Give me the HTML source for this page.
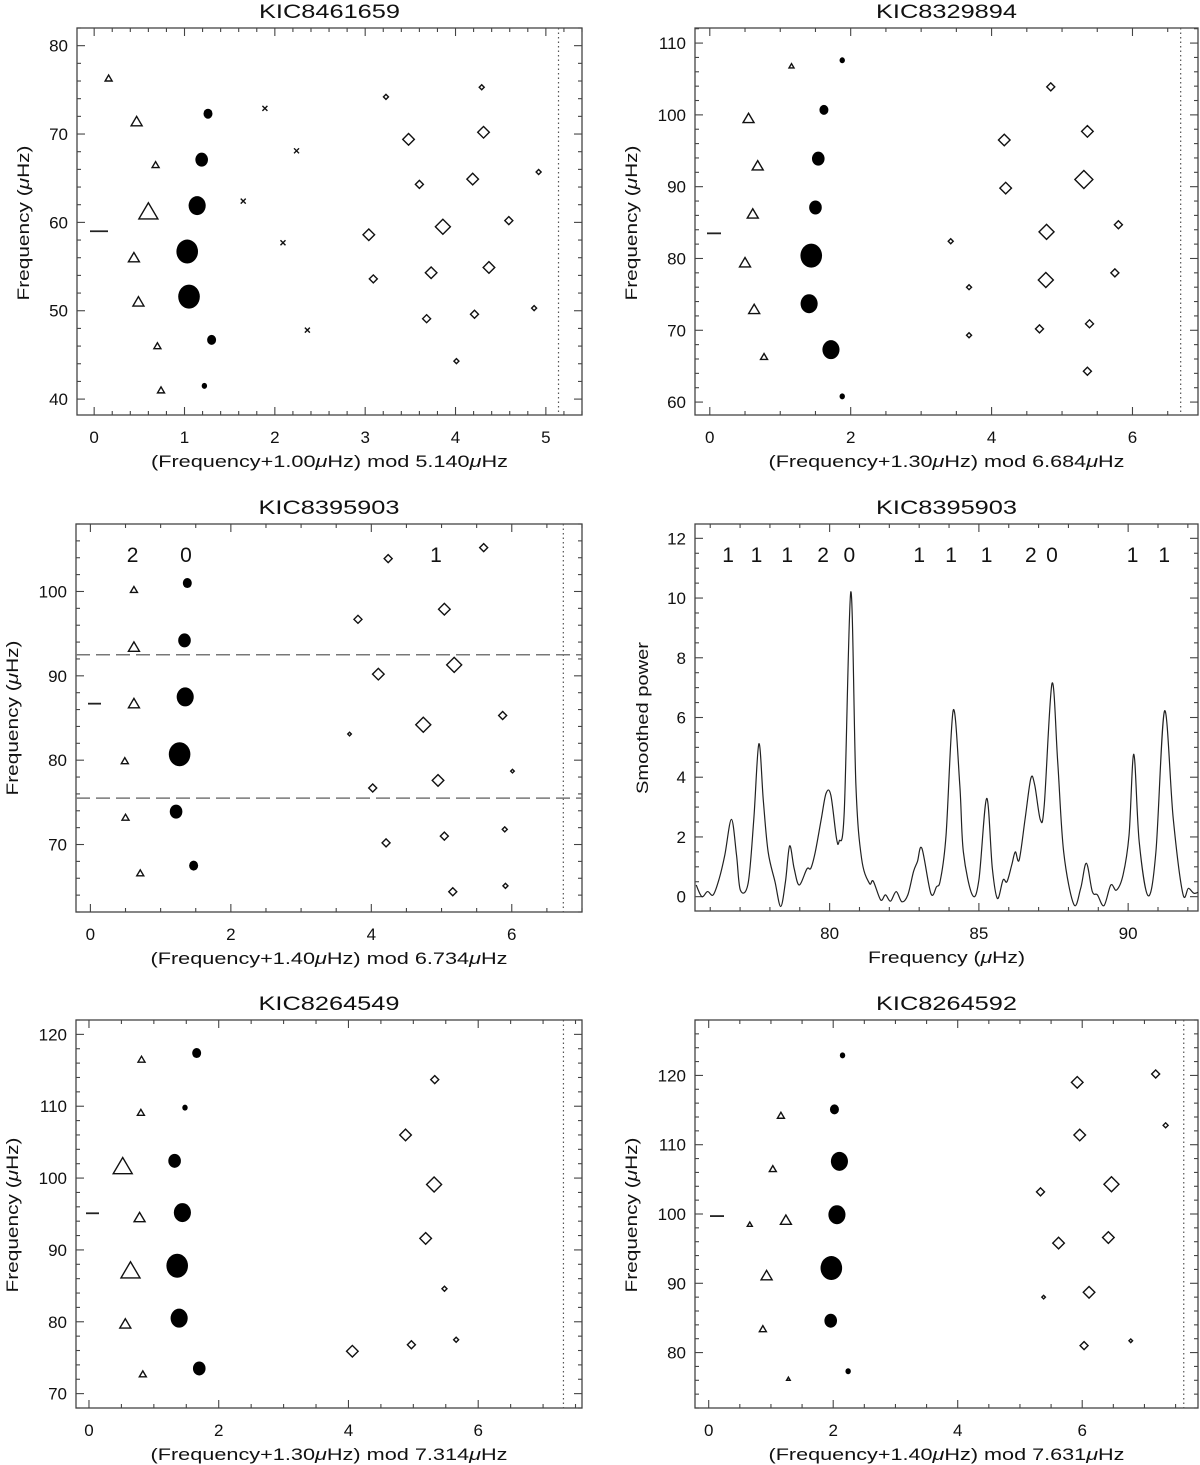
<!DOCTYPE html>
<html><head><meta charset="utf-8"><title>Echelle diagrams</title>
<style>
html,body{margin:0;padding:0;background:#fff;}
svg{display:block;font-family:"Liberation Sans",sans-serif;}
</style></head>
<body>
<svg id="fig" width="1200" height="1465" viewBox="0 0 1200 1465" xmlns="http://www.w3.org/2000/svg"></svg>
<script>
// ---------- Panel 1 : KIC8461659 ----------
const p1TriX=[0.16,0.47,0.68,0.60,0.44,0.49,0.70,0.74];
const p1TriY=[76.3,71.4,66.5,61.2,56.0,51.0,46.0,41.0];
const p1TriS=[2,3,2,5,3,3,2,2];
const p1CirX=[1.26,1.19,1.14,1.03,1.05,1.30,1.22];
const p1CirY=[72.3,67.1,61.9,56.7,51.6,46.7,41.5];
const p1CirS=[2,3,4,5,5,2,1];
const p1CrsX=[1.89,2.24,1.65,2.09,2.36];
const p1CrsY=[72.9,68.1,62.4,57.7,47.8];
const p1DiaX=[3.23,4.29,4.31,3.48,4.92,3.60,4.19,4.59,3.86,3.04,4.37,3.73,3.09,4.87,3.68,4.21,4.01];
const p1DiaY=[74.2,75.3,70.2,69.4,65.7,64.3,64.9,60.2,59.5,58.6,54.9,54.3,53.6,50.3,49.1,49.6,44.3];
const p1DiaS=[1,1,3,3,1,2,3,2,4,3,3,3,2,1,2,2,1];
// ---------- Panel 2 : KIC8329894 ----------
const p2TriX=[1.16,0.55,0.68,0.61,0.50,0.63,0.77];
const p2TriY=[106.8,99.5,92.9,86.2,79.4,72.9,66.3];
const p2TriS=[1,3,3,3,3,3,2];
const p2CirX=[1.88,1.62,1.54,1.50,1.44,1.41,1.72,1.88];
const p2CirY=[107.6,100.7,93.9,87.1,80.4,73.7,67.3,60.8];
const p2CirS=[1,2,3,3,5,4,4,1];
const p2DiaX=[4.84,5.36,4.18,5.31,4.20,5.80,4.78,3.42,4.77,5.75,3.68,5.39,4.68,3.68,5.36];
const p2DiaY=[103.9,97.7,96.5,91.0,89.8,84.7,83.7,82.4,77.0,78.0,76.0,70.9,70.2,69.3,64.3];
const p2DiaS=[2,3,3,5,3,2,4,1,4,2,1,2,2,1,2];
// ---------- Panel 3 : KIC8395903 echelle ----------
const p3TriX=[0.62,0.62,0.62,0.49,0.50,0.71];
const p3TriY=[100.2,93.4,86.7,79.9,73.2,66.6];
const p3TriS=[2,3,3,2,2,2];
const p3CirX=[1.38,1.34,1.35,1.27,1.22,1.47];
const p3CirY=[101.0,94.2,87.5,80.7,73.9,67.5];
const p3CirS=[2,3,4,5,3,2];
const p3DiaX=[4.24,5.60,5.04,3.81,5.18,4.10,5.87,4.74,3.69,6.01,4.95,4.02,5.90,5.04,4.21,5.91,5.16];
const p3DiaY=[103.9,105.2,97.9,96.7,91.3,90.2,85.3,84.2,83.1,78.7,77.6,76.7,71.8,71.0,70.2,65.1,64.4];
const p3DiaS=[2,2,3,2,4,3,2,4,0,0,3,2,1,2,2,1,2];
const p3HLines=[92.5,75.5];
const p3DegLabels=["2","0","1"];
const p3DegX=[0.60,1.36,4.92];
// ---------- Panel 4 : smoothed power spectrum ----------
const p4Freq=[75.53,75.72,75.91,76.10,76.30,76.49,76.71,76.88,77.01,77.27,77.46,77.63,77.78,77.94,78.17,78.36,78.52,78.66,78.81,78.98,79.24,79.37,79.52,79.72,79.88,80.04,80.23,80.32,80.49,80.71,80.88,81.07,81.33,81.46,81.71,81.87,82.04,82.23,82.42,82.62,82.81,82.94,83.09,83.39,83.58,83.71,83.90,84.14,84.36,84.48,84.78,85.00,85.26,85.45,85.62,85.81,85.94,86.10,86.22,86.35,86.55,86.74,86.87,87.06,87.19,87.45,87.64,87.84,88.18,88.41,88.60,88.80,88.97,89.19,89.42,89.61,89.83,90.03,90.19,90.37,90.67,90.93,91.22,91.51,91.83,92.02,92.22,92.47];
const p4Power=[0.39,0.00,0.17,0.06,0.60,1.40,2.59,1.40,0.22,0.45,2.60,5.12,3.20,1.50,0.50,-0.33,0.50,1.70,0.95,0.39,0.93,0.95,1.50,2.60,3.46,3.40,1.95,1.86,2.85,10.21,3.74,1.28,0.45,0.52,-0.11,0.06,-0.15,0.17,-0.17,0.06,0.84,1.17,1.62,0.11,0.33,0.56,2.06,6.24,3.74,1.50,0.06,0.56,3.29,0.95,-0.06,0.56,0.50,1.06,1.50,1.23,2.62,3.96,3.74,2.57,3.07,7.14,4.52,1.50,-0.26,0.28,1.12,0.17,0.06,-0.30,0.39,0.22,0.73,2.06,4.77,1.84,0.03,1.50,6.22,2.62,0.11,0.28,0.11,0.22];
const p4PeakLabels=["1","1","1","2","0","1","1","1","2","0","1","1"];
const p4PeakX=[76.6,77.55,78.58,79.78,80.66,83.0,84.07,85.26,86.74,87.45,90.15,91.21];
const p4XTicks=[80,85,90];
const p4YTicks=[0,2,4,6,8,10,12];
// ---------- Panel 5 : KIC8264549 ----------
const p5TriX=[0.81,0.80,0.52,0.78,0.64,0.56,0.83];
const p5TriY=[116.5,109.1,101.6,94.5,87.1,79.7,72.7];
const p5TriS=[2,2,5,3,5,3,2];
const p5CirX=[1.66,1.48,1.32,1.44,1.36,1.39,1.70];
const p5CirY=[117.4,109.8,102.4,95.2,87.8,80.5,73.5];
const p5CirS=[2,1,3,4,5,4,3];
const p5DiaX=[5.33,4.88,5.32,5.19,5.48,5.66,4.97,4.06];
const p5DiaY=[113.7,106.0,99.1,91.6,84.6,77.5,76.8,75.9];
const p5DiaS=[2,3,4,3,1,1,2,3];
// ---------- Panel 6 : KIC8264592 ----------
const p6TriX=[1.16,1.03,1.24,0.66,0.93,0.87,1.28];
const p6TriY=[114.2,106.5,99.1,98.5,91.1,83.4,76.2];
const p6TriS=[2,2,3,1,3,2,0];
const p6CirX=[2.15,2.02,2.10,2.06,1.97,1.96,2.24];
const p6CirY=[122.9,115.1,107.6,99.9,92.2,84.6,77.3];
const p6CirS=[1,2,4,4,5,3,1];
const p6DiaX=[7.18,5.92,7.34,5.96,6.47,5.33,5.62,6.42,5.38,6.11,6.03,6.78];
const p6DiaY=[120.2,119.0,112.8,111.4,104.3,103.2,95.8,96.6,88.0,88.7,81.0,81.7];
const p6DiaS=[2,3,1,3,4,2,3,3,0,3,2,0];

const NS="http://www.w3.org/2000/svg";
const svg=document.getElementById('fig');
const AX="#444";
function mk(tag,attrs,parent){const e=document.createElementNS(NS,tag);for(const k in attrs)e.setAttribute(k,attrs[k]);(parent||svg).appendChild(e);return e;}
function scale(d0,d1,p0,p1){return v=>p0+(v-d0)/(d1-d0)*(p1-p0);}
const TRI=[1.8,2.5,3.5,5.5,7.5,9.5];
const CIR=[2,3,5,7,9.5,12];
const DIA=[1.8,2.5,4,5.8,7.5,9];

function panel(c){
  const g=mk('g',{});
  
  
  const [l,t,r,b]=c.box;
  const X=scale(c.x[0],c.x[1],l,r), Y=scale(c.y[0],c.y[1],b,t);
  c.X=X;c.Y=Y;c.g=g;
  // title
  const ti=mk('text',{x:(l+r)/2,y:t-10,'text-anchor':'middle','font-size':19,fill:'#111',textLength:c.titleLen,lengthAdjust:'spacingAndGlyphs'},g);
  ti.textContent=c.title;
  
  
  // box
  const bx=mk('rect',{x:l,y:t,width:r-l,height:b-t,fill:'none',stroke:AX,'stroke-width':1.3},g);
  
  
  // ticks
  const tk=mk('g',{stroke:AX,'stroke-width':1.1},g);
  
  
  const eps=1e-6;
  let s=Math.ceil(c.x[0]/c.xMinor-eps)*c.xMinor;
  for(let v=s;v<=c.x[1]+eps;v+=c.xMinor){
    const isMaj=Math.abs(v/c.xMajor-Math.round(v/c.xMajor))<1e-4;
    const L=isMaj?8:4, px=X(v);
    mk('line',{x1:px,x2:px,y1:b,y2:b-L},tk);
    mk('line',{x1:px,x2:px,y1:t,y2:t+L},tk);
    if(isMaj){
      const tx=mk('text',{x:px,y:b+28,'text-anchor':'middle','font-size':17,fill:'#111',stroke:'none'},g);
      tx.textContent=String(Math.round(v));
      
      
    }
  }
  s=Math.ceil(c.y[0]/c.yMinor-eps)*c.yMinor;
  for(let v=s;v<=c.y[1]+eps;v+=c.yMinor){
    const isMaj=Math.abs(v/c.yMajor-Math.round(v/c.yMajor))<1e-4;
    const L=isMaj?8:4, py=Y(v);
    mk('line',{x1:l,x2:l+L,y1:py,y2:py},tk);
    mk('line',{x1:r,x2:r-L,y1:py,y2:py},tk);
    if(isMaj){
      const tx=mk('text',{x:l-9,y:py+6,'text-anchor':'end','font-size':17,fill:'#111'},g);
      tx.textContent=String(Math.round(v));
      
      
    }
  }
  // axis labels
  const xl=mk('text',{x:(l+r)/2,y:b+52,'text-anchor':'middle','font-size':17,fill:'#111',textLength:c.xLabLen,lengthAdjust:'spacingAndGlyphs'},g);
  xl.innerHTML=c.xLabel;
  
  
  const yl=mk('text',{x:0,y:0,'text-anchor':'middle','font-size':17,fill:'#111',textLength:c.yLabLen,lengthAdjust:'spacingAndGlyphs',transform:`translate(${c.yLabX},${c.yLabY}) rotate(-90)`},g);
  yl.innerHTML=c.yLabel;
  
  
  if(c.dotted!==undefined){
    const dl=mk('line',{x1:X(c.dotted),x2:X(c.dotted),y1:t,y2:b,stroke:'#555','stroke-width':1.2,'stroke-dasharray':'1.5,3'},g);
    
    
  }
  if(c.dash){
    const dd=mk('line',{x1:c.dash[1],x2:c.dash[2],y1:Y(c.dash[0]),y2:Y(c.dash[0]),stroke:'#222','stroke-width':1.8},g);
    
    
  }
  return c;
}
function tris(c,xs,ys,ss){
  for(let i=0;i<xs.length;i++){
    const h=TRI[ss[i]],px=c.X(xs[i]),py=c.Y(ys[i]);
    const p=mk('polygon',{points:`${px-h},${py+h*0.75} ${px+h},${py+h*0.75} ${px},${py-h*0.95}`,fill:'none',stroke:'#111','stroke-width':1.4},c.g);
    
    
  }
}
function circs(c,xs,ys,ss){
  for(let i=0;i<xs.length;i++){
    const r=CIR[ss[i]];
    const e=mk('ellipse',{cx:c.X(xs[i]),cy:c.Y(ys[i]),rx:r*0.9,ry:r,fill:'#000'},c.g);
    
    
  }
}
function dias(c,xs,ys,ss){
  for(let i=0;i<xs.length;i++){
    const h=DIA[ss[i]],px=c.X(xs[i]),py=c.Y(ys[i]);
    const p=mk('polygon',{points:`${px-h},${py} ${px},${py-h} ${px+h},${py} ${px},${py+h}`,fill:'none',stroke:'#111','stroke-width':1.4},c.g);
    
    
  }
}
function crosses(c,xs,ys){
  for(let i=0;i<xs.length;i++){
    const px=c.X(xs[i]),py=c.Y(ys[i]),h=2.5;
    const p=mk('path',{d:`M${px-h},${py-h}L${px+h},${py+h}M${px-h},${py+h}L${px+h},${py-h}`,stroke:'#111','stroke-width':1.4},c.g);
    
    
  }
}
const FQ='Frequency (<tspan font-style="italic">μ</tspan>Hz)';
function modLab(a,b){return `(Frequency+${a}<tspan font-style="italic">μ</tspan>Hz)  mod  ${b}<tspan font-style="italic">μ</tspan>Hz`;}

const c1=panel({name:'panel-kic8461659',box:[77,28,582,415],x:[-0.19,5.40],y:[38.2,82.0],xMajor:1,xMinor:0.2,yMajor:10,yMinor:2,title:'KIC8461659',titleLen:141,xLabel:modLab('1.00','5.140'),xLabLen:357,yLabel:FQ,yLabLen:155,yLabX:29,yLabY:223,dotted:5.14,dash:[59.0,90,108]});
tris(c1,p1TriX,p1TriY,p1TriS);circs(c1,p1CirX,p1CirY,p1CirS);crosses(c1,p1CrsX,p1CrsY);dias(c1,p1DiaX,p1DiaY,p1DiaS);

const c2=panel({name:'panel-kic8329894',box:[695,28,1198,415],x:[-0.21,6.93],y:[58.2,112.1],xMajor:2,xMinor:0.5,yMajor:10,yMinor:2,title:'KIC8329894',titleLen:141,xLabel:modLab('1.30','6.684'),xLabLen:356,yLabel:FQ,yLabLen:155,yLabX:637,yLabY:223,dotted:6.684,dash:[83.5,707,721]});
tris(c2,p2TriX,p2TriY,p2TriS);circs(c2,p2CirX,p2CirY,p2CirS);dias(c2,p2DiaX,p2DiaY,p2DiaS);

const c3=panel({name:'panel-kic8395903-echelle',box:[76,524,582,912],x:[-0.205,7.0],y:[62,108],xMajor:2,xMinor:0.5,yMajor:10,yMinor:2,title:'KIC8395903',titleLen:141,xLabel:modLab('1.40','6.734'),xLabLen:357,yLabel:FQ,yLabLen:155,yLabX:18,yLabY:718,dotted:6.734,dash:[86.7,88,101]});
p3HLines.forEach(v=>{
  const hl=mk('line',{x1:76,x2:582,y1:c3.Y(v),y2:c3.Y(v),stroke:'#777','stroke-width':1.5,'stroke-dasharray':'14,6'},c3.g);
  
  
});
tris(c3,p3TriX,p3TriY,p3TriS);circs(c3,p3CirX,p3CirY,p3CirS);dias(c3,p3DiaX,p3DiaY,p3DiaS);
p3DegLabels.forEach((s,i)=>{
  const tx=mk('text',{x:c3.X(p3DegX[i]),y:562,'text-anchor':'middle','font-size':21,fill:'#111'},c3.g);
  tx.textContent=s;
  
  
});

const c4=panel({name:'panel-kic8395903-spectrum',box:[695,524,1198,911],x:[75.49,92.34],y:[-0.48,12.48],xMajor:5,xMinor:1,yMajor:2,yMinor:0.5,title:'KIC8395903',titleLen:141,xLabel:FQ,xLabLen:157,yLabel:'Smoothed power',yLabLen:152,yLabX:648,yLabY:718});
{
  const pts=p4Freq.map((f,i)=>[c4.X(f),c4.Y(p4Power[i])]);
  let d=`M${pts[0][0]},${pts[0][1]}`;
  for(let i=0;i<pts.length-1;i++){
    const p0=pts[Math.max(0,i-1)],p1=pts[i],p2=pts[i+1],p3=pts[Math.min(pts.length-1,i+2)];
    const k=1/6;
    d+=`C${p1[0]+(p2[0]-p0[0])*k},${p1[1]+(p2[1]-p0[1])*k} ${p2[0]-(p3[0]-p1[0])*k},${p2[1]-(p3[1]-p1[1])*k} ${p2[0]},${p2[1]}`;
  }
  mk('clipPath',{id:'c4clip'},svg).appendChild(document.createElementNS(NS,'rect'));
  const cr=document.querySelector('#c4clip rect');cr.setAttribute('x',695);cr.setAttribute('y',524);cr.setAttribute('width',503);cr.setAttribute('height',387);
  const pl=mk('path',{d:d,fill:'none',stroke:'#222','stroke-width':1.2,'clip-path':'url(#c4clip)'},c4.g);
  
  
  p4PeakLabels.forEach((s,i)=>{
    const tx=mk('text',{x:c4.X(p4PeakX[i]),y:562,'text-anchor':'middle','font-size':21,fill:'#111'},c4.g);
    tx.textContent=s;
    
    
  });
}

const c5=panel({name:'panel-kic8264549',box:[76,1020,582,1408],x:[-0.2,7.6],y:[68,122],xMajor:2,xMinor:0.5,yMajor:10,yMinor:2,title:'KIC8264549',titleLen:141,xLabel:modLab('1.30','7.314'),xLabLen:357,yLabel:FQ,yLabLen:155,yLabX:18,yLabY:1215,dotted:7.314,dash:[95.1,86,99]});
tris(c5,p5TriX,p5TriY,p5TriS);circs(c5,p5CirX,p5CirY,p5CirS);dias(c5,p5DiaX,p5DiaY,p5DiaS);

const c6=panel({name:'panel-kic8264592',box:[695,1020,1198,1408],x:[-0.22,7.86],y:[72,128],xMajor:2,xMinor:0.5,yMajor:10,yMinor:2,title:'KIC8264592',titleLen:141,xLabel:modLab('1.40','7.631'),xLabLen:356,yLabel:FQ,yLabLen:155,yLabX:637,yLabY:1215,dotted:7.631,dash:[99.7,710,724]});
tris(c6,p6TriX,p6TriY,p6TriS);circs(c6,p6CirX,p6CirY,p6CirS);dias(c6,p6DiaX,p6DiaY,p6DiaS);
</script>
</body></html>
